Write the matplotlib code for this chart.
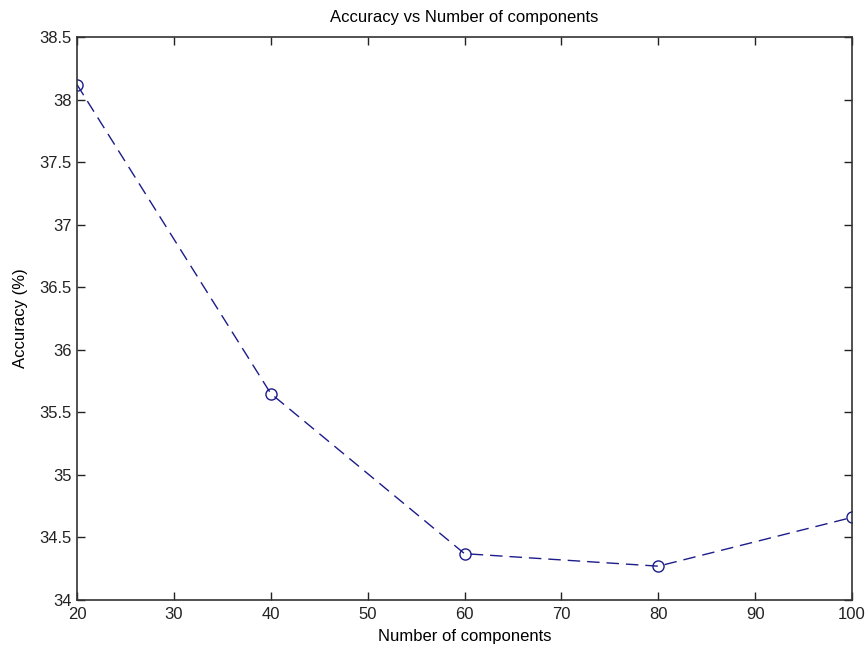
import matplotlib.pyplot as plt

# Accuracy for each number of components
components = [20, 40, 60, 80, 100]
accuracy = [38.12, 35.65, 34.37, 34.27, 34.66]

x_ticks = [20, 30, 40, 50, 60, 70, 80, 90, 100]
y_ticks = [34, 34.5, 35, 35.5, 36, 36.5, 37, 37.5, 38, 38.5]

plt.rcParams['font.family'] = ['Liberation Sans', 'DejaVu Sans']
plt.rcParams['font.size'] = 12

fig = plt.figure(figsize=(8.67, 6.5), dpi=100)
ax = fig.add_axes([0.0888, 0.077, 0.894, 0.866])

ax.plot(components, accuracy, linestyle='--', dashes=(9, 5), color='#1c1c8a',
        linewidth=1.0, marker='o', markersize=8, markerfacecolor='none',
        markeredgecolor='#1c1c8a', markeredgewidth=1.0)

ax.set_xlim(20, 100)
ax.set_ylim(34, 38.5)
ax.set_xticks(x_ticks)
ax.set_yticks(y_ticks)
ax.set_yticklabels(['34', '34.5', '35', '35.5', '36', '36.5', '37', '37.5', '38', '38.5'])

ax.tick_params(direction='in', top=True, right=True, length=6, width=1,
               labelsize=12, colors='#222222')
ax.tick_params(axis='x', pad=5)
ax.tick_params(axis='y', pad=4)
for spine in ax.spines.values():
    spine.set_color('#333333')
    spine.set_linewidth(1.2)

ax.set_title('Accuracy vs Number of components', fontsize=12, pad=11)
ax.set_xlabel('Number of components', fontsize=12, labelpad=5)
ax.set_ylabel('Accuracy (%)', fontsize=12, labelpad=8)

fig.savefig('out.png', dpi=100)
